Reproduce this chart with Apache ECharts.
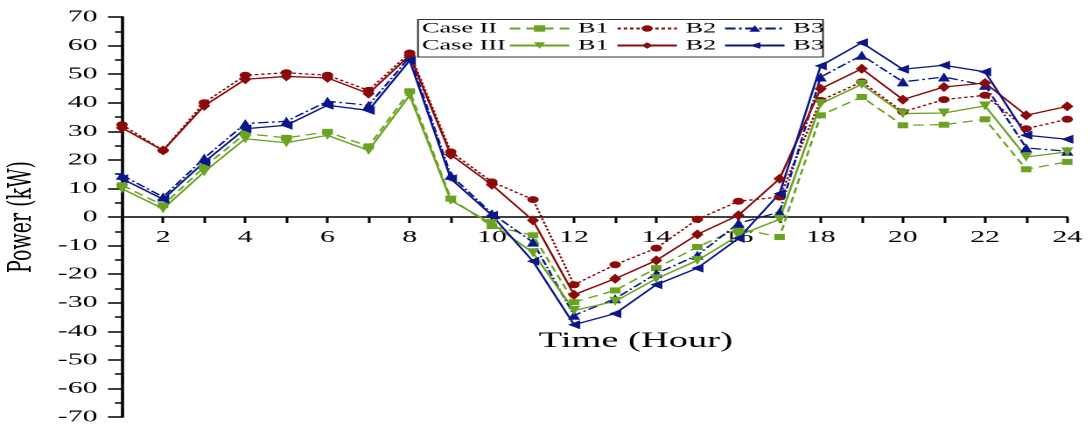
<!DOCTYPE html>
<html>
<head>
<meta charset="utf-8">
<script src="https://cdn.jsdelivr.net/npm/echarts@6/dist/echarts.min.js"></script>
<style>
html,body{margin:0;padding:0;background:#fff;overflow:hidden}
#wrap{width:1090px;height:428px;overflow:hidden;position:relative;background:#fff}
#c{position:absolute;left:0;top:0;height:428px;transform-origin:0 0}
</style>
</head>
<body>
<div id="wrap"><div id="c"></div></div>
<script>
// ---- data ----
const hours = [1,2,3,4,5,6,7,8,9,10,11,12,13,14,15,16,17,18,19,20,21,22,23,24];
const xTickLabels = [2,4,6,8,10,12,14,16,18,20,22,24];
const seriesNames = ['Case II B1','Case II B2','Case II B3','Case III B1','Case III B2','Case III B3'];
const caseLabels = ['Case II','Case III'];

const case2B1 = [11.1,4.1,17.5,29.2,27.7,29.8,24.7,44.0,6.4,-3.2,-6.4,-29.8,-25.7,-17.9,-10.5,-4.0,-7.0,35.6,42.0,32.1,32.3,34.2,16.7,19.3];
const case2B2 = [32.3,23.3,40.0,49.6,50.5,49.6,44.3,57.4,22.8,12.3,6.1,-23.7,-16.7,-10.9,-0.8,5.5,7.0,40.8,47.3,36.8,41.1,42.6,30.9,34.2];
const case2B3 = [14.6,7.0,20.6,32.7,33.5,40.5,39.1,56.0,14.6,1.2,-8.8,-34.4,-28.6,-19.8,-13.4,-2.2,1.7,49.0,56.6,47.3,49.0,46.1,24.2,23.0];
const case3B1 = [9.9,2.9,15.8,27.4,26.0,28.6,23.3,42.6,5.8,-2.3,-12.5,-32.7,-29.5,-21.6,-15.2,-6.5,-0.8,39.7,46.4,36.2,36.4,38.9,21.0,22.8];
const case3B2 = [31.2,23.3,38.9,48.2,49.2,48.7,43.2,56.6,21.8,11.3,-1.2,-27.2,-21.6,-15.2,-6.1,0.6,13.4,44.9,51.9,41.1,45.5,46.9,35.6,38.7];
const case3B3 = [13.4,6.2,19.2,30.9,32.1,39.1,37.3,54.8,13.4,0.6,-15.5,-37.7,-33.8,-23.7,-17.9,-7.5,8.2,52.9,61.0,51.7,53.1,50.8,28.6,27.2];
const yMin = -70, yMax = 70;

// ---- presentation ----
const S = 1.75;               // the reference figure is stretched horizontally
const W = 1090 / S;
const FONT = 'Liberation Serif';
const GREEN = '#6aa321', RED = '#8b0b0b', BLUE = '#0a168a';
const GRID_TOP = 17, GRID_BOTTOM = 11, H = 428;
const gridH = H - GRID_TOP - GRID_BOTTOM;
// the x axis crosses the y axis at value 0
const xAxisOffset = -gridH * (0 - yMin) / (yMax - yMin);

const el = document.getElementById('c');
el.style.width = W + 'px';
el.style.transform = 'scaleX(' + S + ')';

const chart = echarts.init(el, null, {renderer: 'canvas', devicePixelRatio: 2});

function pts(arr){ return hours.map((h,i)=>[h, arr[i]]); }

function mk(name, data, color, lineType, symbol, size, rot){
  return {
    name: name, type: 'line', data: pts(data),
    symbol: symbol, symbolSize: size, symbolRotate: rot || 0,
    lineStyle: {color: color, width: 1.3, type: lineType},
    itemStyle: {color: color},
    emphasis: {disabled: true}
  };
}

const series = [
  mk(seriesNames[0], case2B1, GREEN, [6,3.5], 'rect', [6,6]),
  mk(seriesNames[1], case2B2, RED, [2,1.6], 'circle', [6.5,7]),
  mk(seriesNames[2], case2B3, BLUE, [6,2,1.5,2], 'triangle', [7,9]),
  mk(seriesNames[3], case3B1, GREEN, 'solid', 'triangle', [7,9], 180),
  mk(seriesNames[4], case3B2, RED, 'solid', 'diamond', [7,10]),
  mk(seriesNames[5], case3B3, BLUE, 'solid', 'triangle', [9,7], 90)
];

const legendCommon = {
  orient: 'horizontal', left: 290.3, padding: 0,
  itemWidth: 34, itemHeight: 8, itemGap: 4, selectedMode: false,
  formatter: n => n.split(' ').pop(),
  textStyle: {fontFamily: FONT, fontSize: 15, color: '#000'}
};

const option = {
  animation: false,
  backgroundColor: '#fff',
  grid: {left: 122 / S, right: W - 1067 / S, top: GRID_TOP, bottom: GRID_BOTTOM, outerBoundsMode: 'none', containLabel: false},
  legend: [
    Object.assign({top: 21, data: seriesNames.slice(0,3)}, legendCommon),
    Object.assign({top: 38, data: seriesNames.slice(3,6)}, legendCommon)
  ],
  graphic: [
    {type: 'rect', shape: {x: 418 / S, y: 19.5, width: 405 / S, height: 37.5},
     style: {fill: 'none', stroke: '#333', lineWidth: 1}, z: 1},
    {type: 'text', x: 422 / S, y: 28.5, style: {text: caseLabels[0], font: '15px "' + FONT + '"', fill: '#000', verticalAlign: 'middle'}},
    {type: 'text', x: 422 / S, y: 45.5, style: {text: caseLabels[1], font: '15px "' + FONT + '"', fill: '#000', verticalAlign: 'middle'}}
  ],
  xAxis: {
    type: 'value', min: 1, max: 24, interval: 1, position: 'bottom', offset: xAxisOffset,
    name: 'Time (Hour)', nameLocation: 'middle', nameGap: 113,
    nameTextStyle: {fontFamily: FONT, fontSize: 22, color: '#000', padding: [0,0,0,47]},
    axisLine: {onZero: false, lineStyle: {color: '#000', width: 1.5}},
    axisTick: {show: true, length: 6, lineStyle: {color: '#000', width: 1.5}},
    axisLabel: {
      show: true, margin: 12, fontFamily: FONT, fontSize: 17, color: '#000',
      showMinLabel: true, showMaxLabel: true,
      formatter: v => (xTickLabels.indexOf(v) >= 0 ? String(v) : '')
    },
    splitLine: {show: false}
  },
  yAxis: {
    type: 'value', min: yMin, max: yMax, interval: 10,
    name: 'Power (kW)', nameLocation: 'middle', nameGap: 43,
    nameTextStyle: {fontFamily: 'DejaVu Serif', fontSize: 19, color: '#000'},
    axisLine: {show: true, onZero: false, lineStyle: {color: '#000', width: 1.8}},
    axisTick: {show: true, length: 8, lineStyle: {color: '#000', width: 1.5}},
    minorTick: {show: true, splitNumber: 2, length: 4, lineStyle: {color: '#000', width: 1.5}},
    axisLabel: {margin: 14, fontFamily: FONT, fontSize: 17, color: '#000'},
    splitLine: {show: false}
  },
  series: series
};
chart.setOption(option);
</script>
</body>
</html>
